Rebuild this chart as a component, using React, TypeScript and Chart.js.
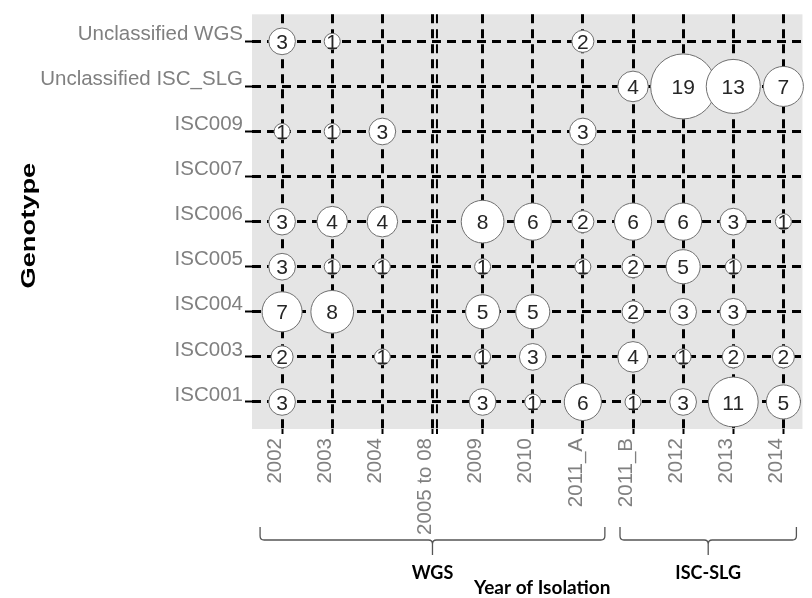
import React, { useEffect, useRef } from 'react';
import { Chart, registerables } from 'chart.js';

Chart.register(...registerables);

// ---------- data ----------
const years = ['2002', '2003', '2004', '2005 to 08', '2009', '2010', '2011_A', '2011_B', '2012', '2013', '2014'];
const genotypes = ['ISC001', 'ISC003', 'ISC004', 'ISC005', 'ISC006', 'ISC007', 'ISC009', 'Unclassified ISC_SLG', 'Unclassified WGS'];

// counts per year (same order as `years`), 0 = no isolates
const isc001 = [3, 0, 0, 0, 3, 1, 6, 1, 3, 11, 5];
const isc003 = [2, 0, 1, 0, 1, 3, 0, 4, 1, 2, 2];
const isc004 = [7, 8, 0, 0, 5, 5, 0, 2, 3, 3, 0];
const isc005 = [3, 1, 1, 0, 1, 0, 1, 2, 5, 1, 0];
const isc006 = [3, 4, 4, 0, 8, 6, 2, 6, 6, 3, 1];
const isc007 = [0, 0, 0, 0, 0, 0, 0, 0, 0, 0, 0];
const isc009 = [1, 1, 3, 0, 0, 0, 3, 0, 0, 0, 0];
const unclassifiedIscSlg = [0, 0, 0, 0, 0, 0, 0, 4, 19, 13, 7];
const unclassifiedWgs = [3, 1, 0, 0, 0, 0, 2, 0, 0, 0, 0];

const countsByGenotype = [isc001, isc003, isc004, isc005, isc006, isc007, isc009, unclassifiedIscSlg, unclassifiedWgs];

const methodGroups = [
  { label: 'WGS', from: 0, to: 6 },
  { label: 'ISC-SLG', from: 7, to: 10 },
];
const xTitle = 'Year of Isolation';
const yTitle = 'Genotype';

// ---------- styling ----------
const TICK_FONT = "'Liberation Sans', Arial, sans-serif";
const NOTE_FONT = "Lato, 'Open Sans', sans-serif";
const radiusFor = (v: number) => 7.3 * Math.sqrt(v) + 0.7;

const points: { x: number; y: number; v: number }[] = [];
countsByGenotype.forEach((row, yi) => {
  row.forEach((v, xi) => {
    if (v > 0) points.push({ x: xi, y: yi, v });
  });
});

const panelBg = {
  id: 'panelBg',
  beforeDraw(chart: any) {
    const { ctx, chartArea: a } = chart;
    ctx.save();
    ctx.fillStyle = '#e5e5e5';
    ctx.fillRect(a.left, a.top, a.right - a.left, a.bottom - a.top);
    ctx.restore();
  },
};

const extraLine = {
  id: 'extraLine',
  beforeDatasetsDraw(chart: any) {
    const { ctx, chartArea: a, scales } = chart;
    const x = scales.x.getPixelForValue(3) + 4.5;
    ctx.save();
    ctx.strokeStyle = '#000';
    ctx.lineWidth = 2;
    ctx.setLineDash([9, 6]);
    ctx.beginPath();
    ctx.moveTo(x, a.top);
    ctx.lineTo(x, a.bottom);
    ctx.stroke();
    ctx.setLineDash([]);
    ctx.beginPath();
    ctx.moveTo(x, a.bottom);
    ctx.lineTo(x, a.bottom + 5);
    ctx.stroke();
    ctx.restore();
  },
};

const bubbleLabels = {
  id: 'bubbleLabels',
  afterDatasetsDraw(chart: any) {
    const { ctx } = chart;
    const meta = chart.getDatasetMeta(0);
    const data = chart.data.datasets[0].data as any[];
    ctx.save();
    ctx.font = `21px ${TICK_FONT}`;
    ctx.fillStyle = '#262626';
    ctx.textAlign = 'center';
    ctx.textBaseline = 'alphabetic';
    meta.data.forEach((el: any, i: number) => {
      ctx.fillText(String(data[i].v), el.x, el.y + 7.6);
    });
    ctx.restore();
  },
};

const annotations = {
  id: 'annotations',
  afterDraw(chart: any) {
    const { ctx, chartArea: a, scales } = chart;
    const xs = scales.x;
    ctx.save();
    // braces
    const pads = [22, 13];
    const yTop = 527;
    const yLine = 540;
    const yTip = 555;
    ctx.strokeStyle = '#555';
    ctx.lineWidth = 1.3;
    methodGroups.forEach((g, gi) => {
      const x1 = xs.getPixelForValue(g.from) - pads[gi];
      const x2 = xs.getPixelForValue(g.to) + pads[gi];
      const xm = (x1 + x2) / 2;
      const c = 4;
      ctx.beginPath();
      ctx.moveTo(x1, yTop);
      ctx.lineTo(x1, yLine - c);
      ctx.quadraticCurveTo(x1, yLine, x1 + c, yLine);
      ctx.lineTo(xm - c, yLine);
      ctx.quadraticCurveTo(xm, yLine, xm, yLine + c);
      ctx.lineTo(xm, yTip);
      ctx.moveTo(xm, yLine + c);
      ctx.quadraticCurveTo(xm, yLine, xm + c, yLine);
      ctx.lineTo(x2 - c, yLine);
      ctx.quadraticCurveTo(x2, yLine, x2, yLine - c);
      ctx.lineTo(x2, yTop);
      ctx.stroke();
      ctx.fillStyle = '#000';
      ctx.font = `bold 18px ${NOTE_FONT}`;
      ctx.textAlign = 'center';
      ctx.textBaseline = 'middle';
      ctx.fillText(g.label, xm, 573);
    });
    ctx.font = `bold 19px ${NOTE_FONT}`;
    ctx.fillStyle = '#000';
    ctx.textAlign = 'center';
    ctx.textBaseline = 'middle';
    ctx.fillText(xTitle, (a.left + a.right) / 2 + 15, 588);
    // y title
    ctx.translate(29, (a.top + a.bottom) / 2 + 4);
    ctx.rotate(-Math.PI / 2);
    ctx.scale(1.3, 1);
    ctx.font = `bold 21px ${TICK_FONT}`;
    ctx.fillText(yTitle, 0, 0);
    ctx.restore();
  },
};

export default function App() {
  const ref = useRef<HTMLCanvasElement | null>(null);
  useEffect(() => {
    if (!ref.current) return;
    const chart = new Chart(ref.current, {
      type: 'bubble',
      data: {
        datasets: [
          {
            data: points as any,
            backgroundColor: '#ffffff',
            borderColor: '#707070',
            borderWidth: 1,
            radius: (c: any) => radiusFor(c.raw.v),
            clip: false as any,
          } as any,
        ],
      },
      options: {
        animation: false,
        responsive: false,
        maintainAspectRatio: false,
        layout: { autoPadding: false, padding: { top: 8, left: 0, right: 0, bottom: 0 } },
        plugins: { legend: { display: false }, tooltip: { enabled: false } },
        scales: {
          x: {
            type: 'linear',
            min: -0.6,
            max: 10.38,
            afterBuildTicks: (s: any) => {
              s.ticks = years.map((_, i) => ({ value: i }));
            },
            afterFit: (s: any) => {
              s.height = 169;
            },
            ticks: {
              callback: (v: any) => years[v] ?? '',
              color: '#808080',
              font: { size: 20.5, family: TICK_FONT },
              maxRotation: 90,
              minRotation: 90,
              autoSkip: false,
              padding: 4,
              labelOffset: -7,
            },
            grid: {
              color: '#000',
              lineWidth: 3,
              tickLength: 5,
              tickColor: '#000',
              tickWidth: 2,
              tickBorderDash: [],
            },
            border: { display: false, dash: [9, 6] },
          },
          y: {
            type: 'linear',
            min: -0.6,
            max: 8.6,
            afterBuildTicks: (s: any) => {
              s.ticks = genotypes.map((_, i) => ({ value: i }));
            },
            afterFit: (s: any) => {
              s.width = 252;
            },
            ticks: {
              callback: (v: any) => genotypes[v] ?? '',
              color: '#808080',
              font: { size: 20.5, family: TICK_FONT },
              autoSkip: false,
              padding: 2,
              labelOffset: -7,
            },
            grid: {
              color: '#000',
              lineWidth: 3,
              tickLength: 7,
              tickColor: '#000',
              tickWidth: 2,
              tickBorderDash: [],
            },
            border: { display: false, dash: [9, 6] },
          },
        },
      } as any,
      plugins: [panelBg, extraLine, bubbleLabels, annotations],
    });
    return () => chart.destroy();
  }, []);

  return (
    <div style={{ position: 'fixed', left: 0, top: 0, width: 812, height: 598, background: '#fff' }}>
      <canvas ref={ref} width={812} height={598} style={{ width: 812, height: 598, display: 'block' }} />
    </div>
  );
}
